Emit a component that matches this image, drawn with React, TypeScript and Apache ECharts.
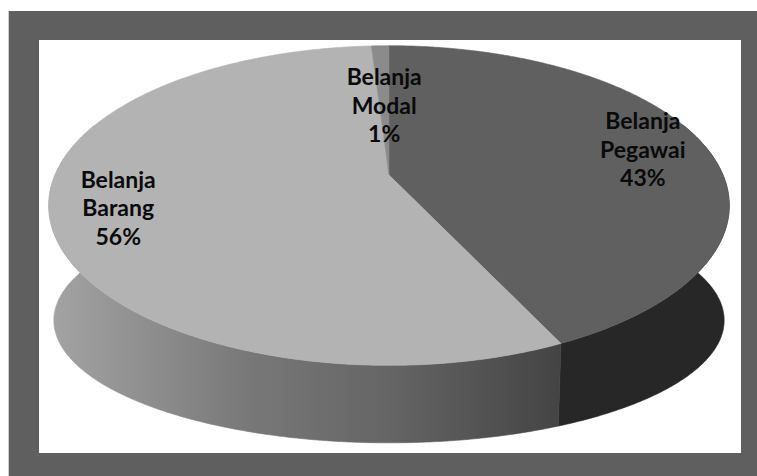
import React, { useEffect, useRef } from "react";
import * as echarts from "echarts";

// ---- data ----
const categories: string[] = ["Belanja Pegawai", "Belanja Barang", "Belanja Modal"];
const labelLines: string[][] = [
  ["Belanja", "Pegawai"],
  ["Belanja", "Barang"],
  ["Belanja", "Modal"],
];
const values: number[] = [43, 56, 1];

// ---- styles ----
const topColors = ["#606060", "#b3b3b3", "#8b8b8b"];
const sideColors = ["#272727", "gradient", "#6a6a6a"];

// ---- projection of the tilted pie (degrees clockwise from 12 o'clock) ----
const CX = 389, CY = 175, A = 334, B = 154, P = 0.191;
const AB = 329, BB = 118, CYB = 297;

function proj(theta: number, rr: number, a: number, b: number, cy: number): number[] {
  const r = (theta * Math.PI) / 180;
  const X = Math.sin(r) * rr;
  const Yd = -Math.cos(r) * rr;
  const w = 1 / (1 - P * Yd);
  return [CX + a * X * w, cy + b * Yd * w];
}
const topPt = (t: number, rr = 1) => proj(t, rr, A, B, CY);
const botPt = (t: number) => proj(t, 1, AB, BB, CYB);

function arc(t1: number, t2: number, f: (t: number) => number[]): number[][] {
  const pts: number[][] = [];
  const n = Math.max(2, Math.ceil(Math.abs(t2 - t1) / 0.5));
  for (let i = 0; i <= n; i++) pts.push(f(t1 + ((t2 - t1) * i) / n));
  return pts;
}

export default function App() {
  const ref = useRef<HTMLDivElement>(null);
  useEffect(() => {
    document.body.style.margin = "0";
    if (!ref.current) return;
    const chart = echarts.init(ref.current, undefined, { renderer: "svg" });
    const total = values.reduce((s, v) => s + v, 0);
    const starts: number[] = [];
    let acc = 0;
    values.forEach((v) => {
      starts.push(acc);
      acc += (v / total) * 360;
    });

    const sideGradient = new echarts.graphic.LinearGradient(
      49, 0, 560, 0,
      [
        { offset: 0, color: "#a4a4a4" },
        { offset: 0.39, color: "#787878" },
        { offset: 0.665, color: "#656565" },
        { offset: 1, color: "#444444" },
      ],
      true
    );

    const renderItem = (params: any, api: any) => {
      const i = params.dataIndex;
      const v = api.value(0);
      const t1 = starts[i];
      const t2 = t1 + (v / total) * 360;
      const children: any[] = [];
      // side (visible front part only)
      const s1 = Math.max(t1, 70);
      const s2 = Math.min(t2, 290);
      if (s2 > s1) {
        const fill = sideColors[i] === "gradient" ? sideGradient : sideColors[i];
        const pts = arc(s1, s2, topPt).concat(arc(s2, s1, botPt));
        children.push({
          type: "polygon",
          z2: 1,
          shape: { points: pts },
          style: { fill, stroke: fill, lineWidth: 0.6 },
        });
      }
      // top face
      const topPts = [[CX, CY]].concat(arc(t1, t2, (t) => topPt(t)));
      children.push({
        type: "polygon",
        z2: 10,
        shape: { points: topPts },
        style: { fill: topColors[i], stroke: topColors[i], lineWidth: 0.6 },
      });
      // label
      const share = v / total;
      const rr = share < 0.05 ? 0.5 : 0.805;
      const mid = (t1 + t2) / 2;
      const lp = topPt(mid, rr);
      const txt = labelLines[i].concat([Math.round(share * 100) + "%"]).join("\n");
      children.push({
        type: "text",
        z2: 100,
        style: {
          text: txt,
          x: lp[0],
          y: lp[1],
          align: "center",
          verticalAlign: "middle",
          fontFamily: "Lato",
          fontWeight: "bold",
          fontSize: 23,
          lineHeight: 28.5,
          fill: "#0a0a0a",
        },
      });
      return { type: "group", children };
    };

    chart.setOption({
      animation: false,
      backgroundColor: "#ffffff",
      graphic: [
        { type: "rect", z: -10, shape: { x: 8, y: 11, width: 749, height: 465 }, style: { fill: "#5f5f5f" } },
        { type: "rect", z: -9, shape: { x: 39, y: 40, width: 702, height: 413 }, style: { fill: "#ffffff" } },
        { type: "line", z: -8, shape: { x1: 8.5, y1: 11, x2: 8.5, y2: 476 }, style: { stroke: "#cfcfcf", lineWidth: 1 } },
      ],
      series: [
        {
          type: "custom",
          coordinateSystem: "none",
          renderItem,
          data: values.map((v, i) => ({ name: categories[i], value: [v] })),
        },
      ],
    });
    return () => chart.dispose();
  }, []);
  return <div ref={ref} style={{ width: 757, height: 476 }} />;
}
